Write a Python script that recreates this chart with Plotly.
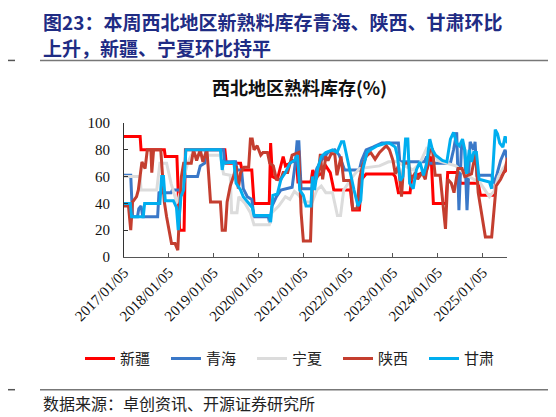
import pandas as pd
import plotly.graph_objects as go

# ---------------- data (decimal year, value %) ----------------
xj_t = [2017.0, 2017.36, 2017.38, 2017.9, 2017.92, 2018.18, 2018.24, 2018.34, 2018.37, 2019.25, 2019.28, 2019.6,
        2019.63, 2019.85, 2019.9, 2020.24, 2020.27, 2020.31, 2020.42, 2020.47, 2020.55, 2020.6, 2020.7, 2020.75,
        2020.85, 2020.88, 2021.17, 2021.21, 2021.26, 2021.4, 2021.5, 2021.6, 2021.68, 2022.05, 2022.1, 2022.25,
        2022.3, 2022.4, 2023.0, 2023.05, 2023.12, 2023.38, 2023.42, 2023.6, 2023.75, 2023.85, 2023.9, 2024.18,
        2024.22, 2024.45, 2024.5, 2024.9, 2024.95, 2025.25, 2025.3, 2025.4, 2025.5, 2025.55]
xj_v = [90, 90, 80, 80, 75, 75, 20, 20, 80, 80, 70, 70,
        65, 65, 40, 40, 85, 60, 58, 65, 75, 68, 70, 72,
        70, 56, 56, 65, 60, 62, 68, 63, 50, 50, 35, 35,
        58, 62, 62, 60, 48, 48, 60, 62, 65, 75, 40, 40,
        63, 63, 55, 55, 46, 46, 58, 62, 64, 66]

qh_t = [2017.0, 2017.15, 2017.19, 2017.3, 2017.33, 2017.38, 2017.42, 2017.75, 2017.78, 2018.05, 2018.08, 2018.3,
        2018.36, 2018.64, 2018.7, 2018.8, 2018.83, 2019.22, 2019.24, 2019.49, 2019.52, 2019.62, 2019.66, 2019.75,
        2019.85, 2019.9, 2020.22, 2020.25, 2020.3, 2020.4, 2020.5, 2020.75, 2020.82, 2020.86, 2020.9, 2020.95,
        2021.2, 2021.25, 2021.3, 2021.4, 2021.55, 2021.7, 2021.8, 2021.92, 2022.25, 2022.3, 2022.4, 2022.55,
        2022.75, 2023.12, 2023.15, 2023.7, 2023.75, 2023.8, 2024.28, 2024.35, 2024.42, 2024.47, 2024.53, 2024.6,
        2024.65, 2024.72, 2024.8, 2024.83, 2024.87, 2025.2, 2025.25, 2025.32, 2025.4, 2025.5, 2025.55]
qh_v = [61, 61, 30, 30, 36, 38, 30, 30, 48, 48, 50, 50,
        60, 60, 68, 70, 80, 80, 71, 71, 65, 65, 51, 45,
        43, 30, 30, 25, 38, 45, 50, 52, 70, 86, 86, 51,
        51, 58, 66, 72, 78, 80, 76, 65, 65, 72, 80, 82,
        85, 85, 71, 71, 75, 70, 70, 80, 93, 35, 85, 80,
        35, 86, 80, 86, 61, 61, 55, 62, 72, 80, 72]

nx_t = [2017.0, 2017.36, 2017.38, 2017.73, 2017.8, 2017.95, 2018.05, 2018.14, 2018.18, 2018.25, 2018.35, 2018.42,
        2018.5, 2019.15, 2019.22, 2019.37, 2019.4, 2019.52, 2019.56, 2019.7, 2019.82, 2019.9, 2020.24, 2020.3,
        2020.45, 2020.6, 2020.7, 2020.8, 2020.9, 2021.0, 2021.2, 2021.3, 2021.4, 2021.5, 2021.65, 2021.76,
        2021.83, 2021.9, 2022.0, 2022.1, 2022.25, 2022.5, 2022.7, 2022.9, 2023.1, 2023.25, 2023.45, 2023.6,
        2023.75, 2023.9, 2024.0, 2024.2, 2024.4, 2024.6, 2024.8, 2024.95, 2025.15, 2025.25, 2025.35, 2025.45,
        2025.55]
nx_v = [60, 60, 50, 50, 70, 70, 55, 45, 40, 48, 60, 70,
        76, 76, 62, 61, 33, 33, 45, 40, 33, 24, 24, 33,
        38, 45, 43, 49, 46, 41, 41, 50, 53, 48, 48, 31,
        31, 50, 55, 60, 66, 67, 68, 71, 71, 68, 65, 70,
        81, 78, 72, 70, 68, 62, 58, 55, 45, 49, 60, 66,
        70]

sx_t = [2017.0, 2017.1, 2017.15, 2017.19, 2017.28, 2017.32, 2017.4, 2017.47, 2017.52, 2017.6, 2017.62, 2017.66,
        2017.82, 2017.85, 2017.9, 2017.95, 2018.06, 2018.14, 2018.2, 2018.24, 2018.28, 2018.33, 2018.5, 2018.55,
        2018.62, 2018.7, 2018.76, 2018.85, 2018.93, 2019.15, 2019.19, 2019.26, 2019.3, 2019.37, 2019.45, 2019.5,
        2019.55, 2019.6, 2019.68, 2019.78, 2019.82, 2019.86, 2019.9, 2019.97, 2020.05, 2020.1, 2020.2, 2020.25,
        2020.33, 2020.4, 2020.5, 2020.55, 2020.65, 2020.75, 2020.87, 2020.9, 2020.95, 2021.0, 2021.16, 2021.2,
        2021.28, 2021.33, 2021.38, 2021.43, 2021.5, 2021.55, 2021.62, 2021.7, 2021.75, 2021.84, 2021.9, 2022.05,
        2022.1, 2022.2, 2022.25, 2022.32, 2022.4, 2022.5, 2022.6, 2022.7, 2022.85, 2022.92, 2023.0, 2023.05,
        2023.12, 2023.19, 2023.24, 2023.35, 2023.4, 2023.5, 2023.55, 2023.65, 2023.72, 2023.82, 2023.88, 2023.94,
        2024.05, 2024.13, 2024.17, 2024.22, 2024.3, 2024.36, 2024.45, 2024.54, 2024.6, 2024.75, 2024.84, 2024.9,
        2024.98, 2025.06, 2025.2, 2025.24, 2025.3, 2025.4, 2025.5, 2025.55]
sx_v = [38, 38, 20, 41, 45, 50, 71, 66, 80, 80, 63, 80,
        80, 65, 41, 30, 10, 10, 5, 35, 60, 70, 70, 80,
        72, 80, 71, 80, 41, 41, 20, 20, 41, 53, 61, 68,
        51, 63, 67, 67, 88, 88, 80, 83, 76, 78, 78, 70,
        68, 58, 58, 63, 63, 76, 78, 78, 33, 12, 12, 53,
        58, 61, 77, 58, 75, 72, 77, 77, 61, 75, 57, 57,
        36, 36, 58, 68, 75, 78, 73, 78, 83, 80, 72, 62,
        68, 45, 70, 70, 57, 63, 58, 63, 58, 80, 80, 61,
        61, 36, 21, 58, 55, 48, 66, 66, 60, 62, 78, 48,
        33, 15, 15, 33, 53, 58, 65, 74]

gs_t = [2017.0, 2017.14, 2017.17, 2017.43, 2017.46, 2017.8, 2017.84, 2017.88, 2017.92, 2018.1, 2018.17, 2018.21,
        2018.27, 2018.33, 2018.38, 2019.15, 2019.19, 2019.22, 2019.26, 2019.45, 2019.5, 2019.6, 2019.66, 2019.86,
        2019.9, 2020.24, 2020.27, 2020.32, 2020.42, 2020.5, 2020.6, 2020.7, 2020.8, 2020.87, 2020.92, 2021.0,
        2021.06, 2021.17, 2021.2, 2021.25, 2021.32, 2021.4, 2021.5, 2021.65, 2021.75, 2021.85, 2021.9, 2021.97,
        2022.05, 2022.13, 2022.22, 2022.28, 2022.33, 2022.42, 2022.5, 2022.65, 2022.85, 2022.92, 2023.05, 2023.1,
        2023.16, 2023.22, 2023.28, 2023.33, 2023.37, 2023.45, 2023.52, 2023.6, 2023.68, 2023.75, 2023.82, 2023.88,
        2023.95, 2024.1, 2024.2, 2024.28, 2024.35, 2024.42, 2024.48, 2024.55, 2024.6, 2024.64, 2024.7, 2024.75,
        2024.8, 2024.86, 2024.92, 2025.15, 2025.2, 2025.28, 2025.33, 2025.38, 2025.45, 2025.5, 2025.55]
gs_v = [40, 40, 30, 30, 40, 40, 60, 60, 42, 42, 37, 20,
        45, 50, 80, 80, 65, 71, 70, 71, 55, 50, 45, 37,
        31, 31, 26, 46, 47, 58, 63, 70, 72, 76, 50, 46,
        38, 38, 60, 50, 66, 75, 78, 80, 78, 86, 86, 75,
        60, 50, 38, 42, 66, 78, 80, 83, 85, 85, 82, 75,
        57, 60, 88, 88, 55, 51, 65, 71, 61, 70, 88, 80,
        76, 72, 71, 88, 93, 85, 83, 88, 80, 62, 80, 71,
        78, 78, 58, 56, 51, 95, 92, 85, 82, 90, 85]

names = ["新疆", "青海", "宁夏", "陕西", "甘肃"]
colors = ["#FF0000", "#3A78C8", "#DCDCDC", "#C43E2F", "#00AEEF"]
tick_dates = ["2017-01-05", "2018-01-05", "2019-01-05", "2020-01-05", "2021-01-05",
              "2022-01-05", "2023-01-05", "2024-01-05", "2025-01-05"]
tick_labels = ["2017/01/05", "2018/01/05", "2019/01/05", "2020/01/05", "2021/01/05",
               "2022/01/05", "2023/01/05", "2024/01/05", "2025/01/05"]

base = pd.Timestamp("2017-01-05")


def to_dates(ts):
    return [base + pd.Timedelta(days=(t - 2017.0) * 365.25) for t in ts]


series = [(xj_t, xj_v), (qh_t, qh_v), (nx_t, nx_v), (sx_t, sx_v), (gs_t, gs_v)]

# ---------------- layout geometry ----------------
# the page body adds an 8px offset, so the figure is 8px smaller than the window
OFF = 8
W, H = 556 - OFF, 417 - OFF
L, R, T, B = 116, 49, 114.7, 160
PW, PH = W - L - R, H - T - B


def px(x):  # x in window pixels -> paper
    return (x - OFF - L) / PW


def py(y):  # y in window pixels -> paper
    return (H - B - (y - OFF)) / PH


fig = go.Figure()
for (t, v), n, c in zip(series, names, colors):
    fig.add_trace(go.Scatter(x=to_dates(t), y=v, name=n, mode="lines",
                             line=dict(color=c, width=3)))

serif = "Liberation Serif"
cjk = "Noto Sans CJK SC"

fig.update_layout(
    width=W, height=H,
    margin=dict(l=L, r=R, t=T, b=B, autoexpand=False),
    paper_bgcolor="white", plot_bgcolor="white",
    showlegend=True,
    legend=dict(orientation="h", x=px(80), xanchor="left", y=py(359), yanchor="middle",
                font=dict(family=cjk, size=15, color="#222"),
                entrywidth=41, entrywidthmode="pixels", traceorder="normal",
                bgcolor="rgba(0,0,0,0)"),
    xaxis=dict(type="date", range=["2017-01-05", "2025-07-22"],
               tickvals=tick_dates, ticktext=tick_labels, tickangle=-45,
               ticks="inside", ticklen=4, tickcolor="#555",
               showline=True, linecolor="#555", linewidth=1,
               showgrid=False, zeroline=False,
               tickfont=dict(family=serif, size=15, color="#111")),
    yaxis=dict(range=[0, 100], dtick=20, ticks="inside", ticklen=4, tickcolor="#333",
               showline=True, linecolor="#333", linewidth=1,
               showgrid=False, zeroline=False, ticklabelstandoff=10,
               tickfont=dict(family=serif, size=15, color="#111")),
)

anns = [
    dict(text="<b>图23：本周西北地区新熟料库存青海、陕西、甘肃环比</b>",
         x=px(42), y=py(21), xanchor="left", yanchor="middle", borderpad=0,
         font=dict(family=cjk, size=19, color="#1F2C84")),
    dict(text="<b>上升，新疆、宁夏环比持平</b>",
         x=px(42), y=py(47), xanchor="left", yanchor="middle", borderpad=0,
         font=dict(family=cjk, size=19, color="#1F2C84")),
    dict(text="<b>西北地区熟料库存(%)</b>", x=px(299), y=py(87),
         xanchor="center", yanchor="middle", font=dict(family=cjk, size=18, color="#111")),
    dict(text="数据来源：卓创资讯、开源证券研究所", x=px(41), y=py(403),
         xanchor="left", yanchor="middle", font=dict(family=cjk, size=16, color="#222")),
]
for a in anns:
    a.update(xref="paper", yref="paper", showarrow=False)
fig.update_layout(annotations=anns)

shapes = [
    dict(x0=px(5), x1=px(15), y0=py(60), y1=py(60), line=dict(color="#555", width=1.5)),
    dict(x0=px(40), x1=px(551), y0=py(60), y1=py(60), line=dict(color="#777", width=1.5)),
    dict(x0=px(5), x1=px(15), y0=py(390), y1=py(390), line=dict(color="#555", width=1.5)),
    dict(x0=px(40), x1=px(551), y0=py(390), y1=py(390), line=dict(color="#777", width=1.5)),
]
for s in shapes:
    s.update(type="line", xref="paper", yref="paper")
fig.update_layout(shapes=shapes)

fig.write_html("out.html")
